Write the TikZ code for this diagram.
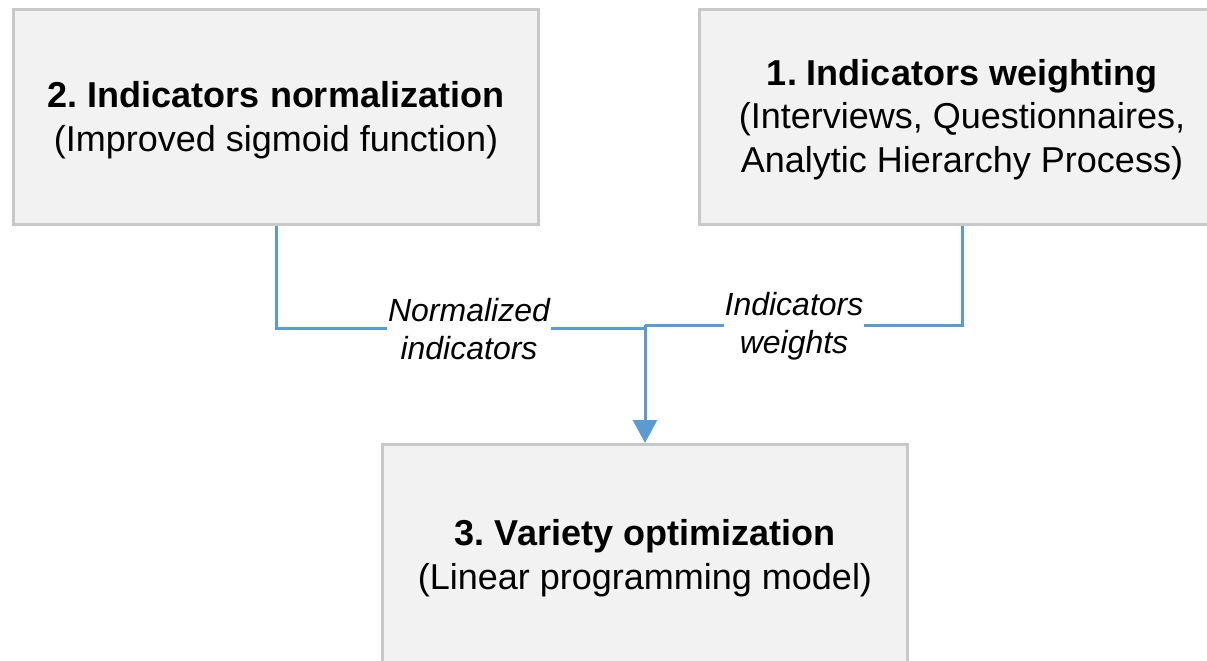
\documentclass[tikz,border=0pt]{standalone}
\usepackage{fontspec}
\setmainfont{Liberation Sans}
\usetikzlibrary{arrows.meta}
\frenchspacing
\definecolor{boxfill}{HTML}{F2F2F2}
\definecolor{boxline}{HTML}{C8C8C8}
\definecolor{conn}{HTML}{5B9BD5}
\tikzset{
  stagebox/.style={draw=boxline, fill=boxfill, line width=3pt, rectangle,
    minimum width=525pt, minimum height=215pt},
  stagetext/.style={align=center, inner sep=0pt, font=\fontsize{36}{43.5}\selectfont},
  link/.style={draw=conn, line width=3pt},
  linklabel/.style={fill=white, inner xsep=1pt, inner ysep=2pt, align=center,
    font=\fontsize{32}{38}\selectfont\itshape}
}
\begin{document}
\begin{tikzpicture}[x=1pt, y=-1pt]
\useasboundingbox (0,0) rectangle (1207,661);
\node[stagebox] (b2) at (276,117) {};
\node[stagebox] (b1) at (962,117) {};
\node[stagebox, minimum height=222pt] (b3) at (645,555.5) {};
\node[stagetext] (t2) at (276,120) {\textbf{2. Indicators normalization}\\(Improved sigmoid function)};
\node[stagetext] (t1) at (962,119.5) {\textbf{1. Indicators weighting}\\(Interviews, Questionnaires,\\Analytic Hierarchy Process)};
\node[stagetext] (t3) at (645,558) {\textbf{3. Variety optimization}\\(Linear programming model)};
\coordinate (jl) at (645,328);
\coordinate (jr) at (645,325);
\draw[link] (b2.south) |- (jl);
\draw[link] (b1.south) |- (jr);
\draw[link, -{Triangle[length=23pt,width=24pt]}] (jr) -- (b3.north);
\node[linklabel] (l1) at (469,329) {Normalized\\indicators};
\node[linklabel] (l2) at (794,326) {Indicators\\weights};
\end{tikzpicture}
\end{document}
